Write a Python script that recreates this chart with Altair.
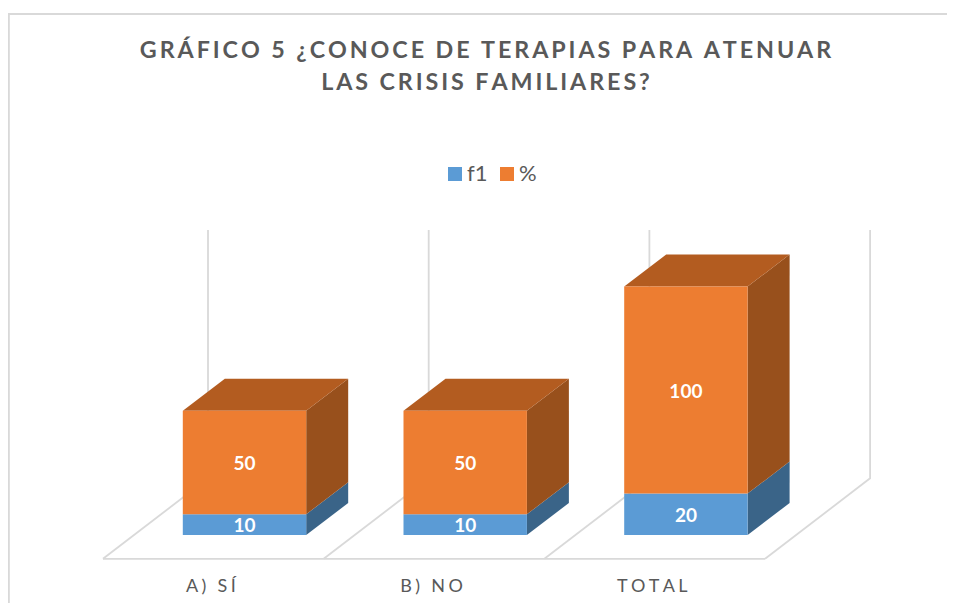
import altair as alt

categories = ["A) SÍ", "B) NO", "TOTAL"]
f1_values = [10, 10, 20]
pct_values = [50, 50, 100]
series_names = ["f1", "%"]
series_colors = ["#5B9BD5", "#ED7D31"]
side_colors = ["#3A6488", "#98501C"]
top_color = "#B35C20"
grid_color = "#D9D9D9"
text_color = "#595959"
axis_max = 120
title_lines = ["GRÁFICO 5 ¿CONOCE DE TERAPIAS PARA ATENUAR", "LAS CRISIS FAMILIARES?"]
FONT = "Lato"
HAIR = "\u200a"


def spaced(s, n):
    return (HAIR * n).join(s)


# category-slot units on x; value units on y
PX_X = 220.7
PX_Y = 2.07
BAR_HALF = 61.7 / PX_X
FLOOR_DX, FLOOR_DY = 105 / PX_X, 80.5 / PX_Y
BAR_DX, BAR_DY = 42 / PX_X, 32 / PX_Y

x_scale = alt.Scale(domain=[-236.5 / PX_X, 702.5 / PX_X], nice=False, zero=False)
y_scale = alt.Scale(domain=[-68 / PX_Y, 527 / PX_Y], nice=False, zero=False)
X = lambda f: alt.X(f, type="quantitative", scale=x_scale, axis=None)
Y = lambda f: alt.Y(f, type="quantitative", scale=y_scale, axis=None)

fronts, sides, tops, labels = [], [], [], []
for i, cat in enumerate(categories):
    base = 0
    for s, (name, val) in enumerate(zip(series_names, (f1_values[i], pct_values[i]))):
        end = base + val
        fronts.append(dict(series=name, x0=i - BAR_HALF, x1=i + BAR_HALF, y0=base, y1=end))
        labels.append(dict(x=i, y=(base + end) / 2, t=str(val)))
        for d in (0, 1):
            sides.append(dict(key=f"{i}-{s}", s=name, x=i + BAR_HALF + d * BAR_DX,
                              y0=base + d * BAR_DY, y1=end + d * BAR_DY))
        base = end
    for d in (0, 1):
        tops.append(dict(key=str(i), y=base + d * BAR_DY,
                         x0=i - BAR_HALF + d * BAR_DX, x1=i + BAR_HALF + d * BAR_DX))

# back wall / floor grid
grid = []
bx0 = (208 - 244.5) / PX_X
front_y = -23.8 / PX_Y
back_y = front_y + FLOOR_DY
for b in range(len(categories) + 1):
    xb = bx0 + b
    grid += [
        dict(k=b, o=0, x=xb, y=back_y + axis_max),
        dict(k=b, o=1, x=xb, y=back_y),
        dict(k=b, o=2, x=xb - FLOOR_DX, y=front_y),
    ]
floor_front = [dict(x=bx0 - FLOOR_DX, y=front_y), dict(x=bx0 + len(categories) - FLOOR_DX, y=front_y)]
cat_labels = [dict(x=bx0 + i + 0.5 - FLOOR_DX - 2.5 / PX_X, y=-52 / PX_Y, t=spaced(c, 3)) for i, c in enumerate(categories)]

df = lambda rows: alt.Data(values=rows)

frame_left = alt.Chart(df([{}])).mark_rule(color=grid_color, strokeWidth=1.8).encode(
    x=alt.value(0.9), y=alt.value(6), y2=alt.value(595))
frame_top = alt.Chart(df([{}])).mark_rule(color=grid_color, strokeWidth=1.8).encode(
    x=alt.value(0), x2=alt.value(939), y=alt.value(6))

grid_lines = alt.Chart(df(grid)).mark_line(color=grid_color, strokeWidth=1.8).encode(
    x=X("x"), y=Y("y"), detail="k:N", order="o:Q")
front_line = alt.Chart(df(floor_front)).mark_line(color=grid_color, strokeWidth=1.8).encode(x=X("x"), y=Y("y"))

side_faces = alt.Chart(df(sides)).mark_area(orient="vertical").encode(
    x=X("x"), y=Y("y0"), y2="y1:Q", detail="key:N",
    color=alt.Color("s:N", scale=alt.Scale(domain=series_names, range=side_colors), legend=None))
top_faces = alt.Chart(df(tops)).mark_area(orient="horizontal", color=top_color).encode(
    y=Y("y"), x=X("x0"), x2="x1:Q", detail="key:N")

front_faces = alt.Chart(df(fronts)).mark_rect().encode(
    x=X("x0"), x2="x1:Q", y=Y("y0"), y2="y1:Q",
    color=alt.Color("series:N", scale=alt.Scale(domain=series_names, range=series_colors), sort=series_names,
                    legend=alt.Legend(title=None, orient="none", legendX=436, legendY=155, direction="horizontal",
                                      columns=2, symbolType="square", symbolSize=196, symbolStrokeWidth=0,
                                      labelFont=FONT, labelFontSize=22, labelColor=text_color, labelOffset=1,
                                      columnPadding=8)))

value_text = alt.Chart(df(labels)).mark_text(color="white", font=FONT, fontWeight="bold", fontSize=19, dy=1.5).encode(
    x=X("x"), y=Y("y"), text="t:N")
cat_text = alt.Chart(df(cat_labels)).mark_text(color=text_color, font=FONT, fontSize=18).encode(
    x=X("x"), y=Y("y"), text="t:N")

chart = alt.layer(
    frame_left, frame_top, grid_lines, front_line, side_faces, top_faces, front_faces, value_text, cat_text
).resolve_scale(color="independent").properties(
    width=939, height=595,
    padding=0,
    autosize=alt.AutoSizeParams(type="none"),
    title=alt.TitleParams(text=[spaced(t, 2) for t in title_lines], anchor="middle", font=FONT, fontSize=23.3,
                          fontWeight="bold", color=text_color, lineHeight=32, baseline="top", dy=91, dx=8),
).configure_view(stroke=None)

chart.save("out.html", embed_options={"renderer": "svg", "actions": False})
